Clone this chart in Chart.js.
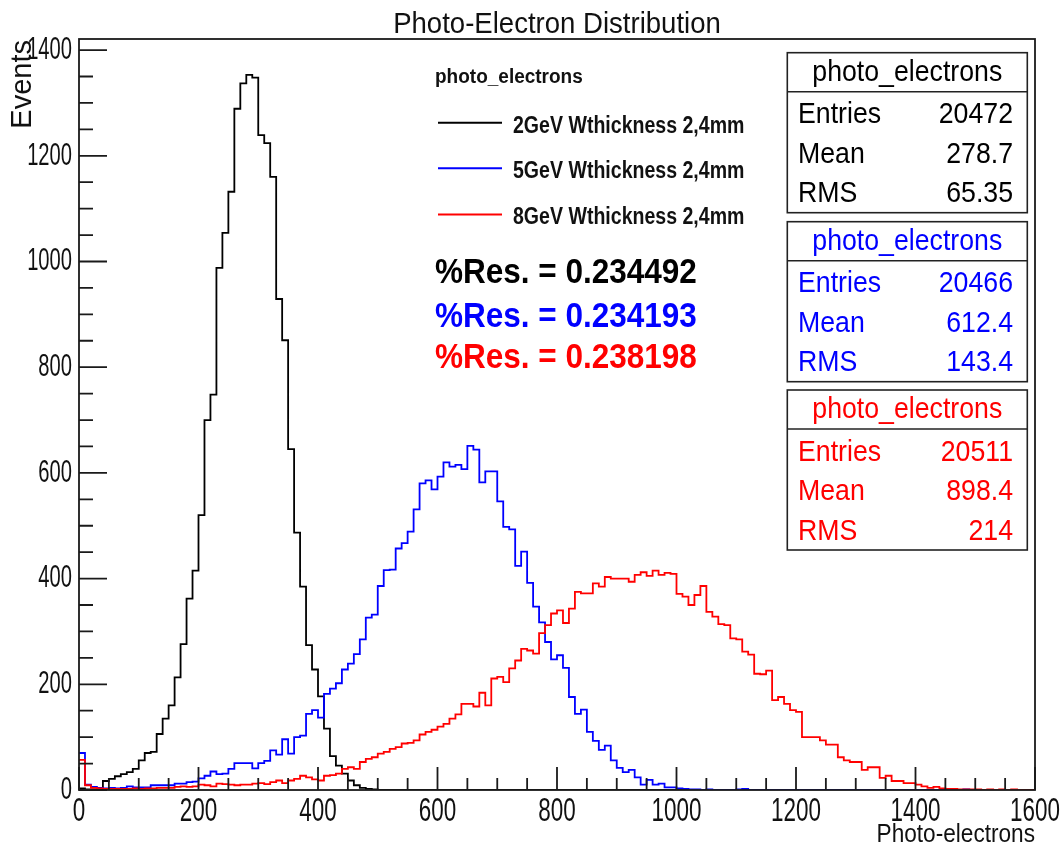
<!DOCTYPE html>
<html>
<head>
<meta charset="utf-8">
<title>Photo-Electron Distribution</title>
<script src="https://cdn.jsdelivr.net/npm/chart.js@4/dist/chart.umd.min.js"></script>
<style>
  html, body { margin: 0; padding: 0; background: #fff; }
  canvas { display: block; }
</style>
</head>
<body>
<canvas id="peChart" width="1061" height="848"></canvas>
<script>
// bin lower edges, 10 photo-electrons wide, 0 -> 1600
const binLow = Array.from({ length: 160 }, (_, i) => i * 10);

// counts per bin
const black2GeV = [
  3, 1, 1, 2, 17, 21, 26, 30, 34, 40,
  56, 70, 72, 106, 135, 160, 213, 276, 362, 415,
  520, 700, 748, 988, 1054, 1132, 1289, 1337, 1353, 1348,
  1239, 1224, 1160, 929, 851, 645, 487, 385, 274, 228,
  177, 116, 64, 46, 31, 18, 9, 4, 2, 1,
  0, 0, 0, 0, 0, 0, 0, 0, 0, 0,
  0, 0, 0, 0, 0, 0, 0, 0, 0, 0,
  0, 0, 0, 0, 0, 0, 0, 0, 0, 0,
  0, 0, 0, 0, 0, 0, 0, 0, 0, 0,
  0, 0, 0, 0, 0, 0, 0, 0, 0, 0,
  0, 0, 0, 0, 0, 0, 0, 0, 0, 0,
  0, 0, 0, 0, 0, 0, 0, 0, 0, 0,
  0, 0, 0, 0, 0, 0, 0, 0, 0, 0,
  0, 0, 0, 0, 0, 0, 0, 0, 0, 0,
  0, 0, 0, 0, 0, 0, 0, 0, 0, 0,
  0, 0, 0, 0, 0, 0, 0, 0, 0, 0
];

const blue5GeV = [
  70, 10, 6, 4, 3, 4, 3, 4, 7, 5,
  5, 5, 9, 9, 9, 9, 12, 12, 15, 16,
  22, 27, 35, 30, 31, 40, 51, 51, 51, 41,
  51, 55, 75, 67, 96, 69, 100, 103, 144, 151,
  137, 182, 192, 202, 228, 239, 257, 285, 326, 332,
  386, 416, 417, 457, 467, 489, 531, 580, 586, 569,
  593, 620, 612, 615, 607, 651, 644, 582, 603, 603,
  546, 498, 493, 424, 451, 392, 347, 317, 280, 247,
  255, 231, 176, 144, 152, 110, 93, 76, 84, 56,
  42, 34, 38, 24, 10, 19, 10, 12, 5, 5,
  3, 2, 1, 1, 0, 1, 0, 0, 0, 0,
  1, 2, 0, 0, 0, 0, 0, 0, 0, 0,
  0, 0, 0, 0, 0, 0, 0, 0, 0, 0,
  0, 0, 0, 0, 0, 0, 0, 0, 0, 0,
  0, 0, 0, 0, 0, 1, 0, 0, 1, 0,
  0, 0, 0, 0, 0, 0, 0, 0, 0, 0
];

const red8GeV = [
  57, 9, 4, 3, 2, 2, 2, 2, 2, 3,
  2, 3, 3, 4, 4, 4, 6, 7, 6, 7,
  10, 9, 7, 12, 11, 10, 9, 10, 10, 12,
  13, 11, 15, 18, 13, 18, 21, 27, 24, 20,
  18, 27, 28, 31, 40, 43, 40, 53, 59, 62,
  69, 72, 78, 81, 88, 89, 94, 105, 110, 114,
  120, 125, 135, 143, 163, 163, 158, 184, 160, 211,
  214, 204, 230, 245, 267, 264, 258, 297, 312, 334,
  340, 316, 343, 375, 372, 372, 391, 385, 403, 400,
  400, 400, 394, 407, 412, 405, 415, 407, 411, 409,
  371, 366, 350, 369, 386, 337, 328, 314, 312, 287,
  285, 262, 256, 220, 219, 226, 170, 176, 163, 151,
  148, 100, 100, 100, 94, 86, 86, 62, 56, 53,
  53, 38, 43, 43, 23, 27, 17, 17, 13, 13,
  10, 7, 4, 6, 3, 2, 2, 1, 1, 1,
  1, 0, 1, 0, 1, 0, 1, 0, 0, 0
];

const seriesLabels = ['2GeV Wthickness 2,4mm', '5GeV Wthickness 2,4mm', '8GeV Wthickness 2,4mm'];
const seriesColors = ['#000000', '#0000ff', '#ff0000'];
const resValues = ['0.234492', '0.234193', '0.238198'];
const statEntries = ['20472', '20466', '20511'];
const statMean = ['278.7', '612.4', '898.4'];
const statRMS = ['65.35', '143.4', '214'];

const xTicks = [0, 200, 400, 600, 800, 1000, 1200, 1400, 1600];
const yTicks = [0, 200, 400, 600, 800, 1000, 1200, 1400];

const FONT = '"Liberation Sans", Arial, Helvetica, sans-serif';

// histogram outline: one point per lower edge, plus the closing edge
function toSteps(counts) {
  const pts = binLow.map((x, i) => ({ x: x, y: counts[i] }));
  pts.push({ x: 1600, y: counts[counts.length - 1] });
  return pts;
}

function drawText(ctx, str, x, y, opt) {
  ctx.save();
  ctx.font = opt.font;
  ctx.fillStyle = opt.color || '#000';
  ctx.textAlign = opt.align || 'left';
  ctx.textBaseline = opt.baseline || 'alphabetic';
  ctx.translate(x, y);
  if (opt.rotate) ctx.rotate(opt.rotate);
  ctx.scale(opt.sx || 1, 1);
  ctx.fillText(str, 0, 0);
  ctx.restore();
}

// ROOT style frame, inner ticks, legend, stat boxes
const rootDecor = {
  id: 'rootDecor',
  afterDatasetsDraw(chart) {
    const ctx = chart.ctx;
    const a = chart.chartArea;
    const xs = chart.scales.x;
    const ys = chart.scales.y;

    ctx.save();
    ctx.strokeStyle = '#1a1a1a';
    ctx.lineWidth = 1.8;
    ctx.strokeRect(a.left, a.top, a.right - a.left, a.bottom - a.top);

    ctx.beginPath();
    for (let v = 0; v <= 1600; v += 50) {
      const px = xs.getPixelForValue(v);
      const len = v % 200 === 0 ? 23 : 12;
      ctx.moveTo(px, a.bottom);
      ctx.lineTo(px, a.bottom - len);
    }
    for (let v = 0; v <= ys.max; v += 50) {
      const py = ys.getPixelForValue(v);
      const len = v % 200 === 0 ? 28 : 14;
      ctx.moveTo(a.left, py);
      ctx.lineTo(a.left + len, py);
    }
    ctx.stroke();
    ctx.restore();

    // tick labels
    xTicks.forEach(v => {
      drawText(ctx, String(v), xs.getPixelForValue(v), 821,
        { font: '34px ' + FONT, align: 'center', sx: 0.66, color: '#111' });
    });
    yTicks.forEach(v => {
      drawText(ctx, String(v), 72, ys.getPixelForValue(v),
        { font: '32px ' + FONT, align: 'right', baseline: 'middle', sx: 0.63, color: '#111' });
    });

    // axis titles and main title
    drawText(ctx, 'Photo-electrons', a.right, 842,
      { font: '26px ' + FONT, align: 'right', sx: 0.87, color: '#111' });
    drawText(ctx, 'Events', 31, a.top + 1,
      { font: '29px ' + FONT, align: 'right', rotate: -Math.PI / 2, color: '#111' });
    drawText(ctx, 'Photo-Electron Distribution', 557, 33,
      { font: '29px ' + FONT, align: 'center', sx: 0.95, color: '#111' });

    // legend
    drawText(ctx, 'photo_electrons', 435, 83,
      { font: 'bold 20px ' + FONT, sx: 0.95, color: '#111' });
    const legY = [122.7, 168.3, 214.5];
    const legBase = [133.3, 178.3, 224];
    seriesLabels.forEach((lab, i) => {
      ctx.save();
      ctx.strokeStyle = seriesColors[i];
      ctx.lineWidth = 2;
      ctx.beginPath();
      ctx.moveTo(438, legY[i]);
      ctx.lineTo(502, legY[i]);
      ctx.stroke();
      ctx.restore();
      drawText(ctx, lab, 513, legBase[i],
        { font: 'bold 23px ' + FONT, sx: 0.85, color: '#111' });
    });

    // resolution lines
    const resBase = [283, 326.7, 368.3];
    resValues.forEach((r, i) => {
      drawText(ctx, '%Res. = ' + r, 435, resBase[i],
        { font: 'bold 35px ' + FONT, sx: 0.9, color: seriesColors[i] });
    });

    // stat boxes
    const boxTop = [52.7, 221.7, 390];
    const bx0 = 787.3, bx1 = 1027.3;
    boxTop.forEach((t, i) => {
      const sep = t + 39;
      const bottom = t + 160;
      ctx.save();
      ctx.fillStyle = '#fff';
      ctx.fillRect(bx0, t, bx1 - bx0, bottom - t);
      ctx.strokeStyle = '#222';
      ctx.lineWidth = 1.6;
      ctx.strokeRect(bx0, t, bx1 - bx0, bottom - t);
      ctx.beginPath();
      ctx.moveTo(bx0, sep);
      ctx.lineTo(bx1, sep);
      ctx.stroke();
      ctx.restore();

      const f = { font: '30px ' + FONT, sx: 0.89, color: seriesColors[i] };
      drawText(ctx, 'photo_electrons', (bx0 + bx1) / 2, t + 28, Object.assign({}, f, { align: 'center' }));
      const rows = [['Entries', statEntries[i]], ['Mean', statMean[i]], ['RMS', statRMS[i]]];
      rows.forEach((row, k) => {
        const by = t + 70.5 + k * 39.5;
        drawText(ctx, row[0], 798, by, f);
        drawText(ctx, row[1], 1013, by, Object.assign({}, f, { align: 'right' }));
      });
    });
  }
};

const ctx = document.getElementById('peChart').getContext('2d');
new Chart(ctx, {
  type: 'line',
  data: {
    datasets: [
      { label: seriesLabels[0], data: toSteps(black2GeV), borderColor: seriesColors[0], order: 3 },
      { label: seriesLabels[1], data: toSteps(blue5GeV), borderColor: seriesColors[1], order: 2 },
      { label: seriesLabels[2], data: toSteps(red8GeV), borderColor: seriesColors[2], order: 1 }
    ]
  },
  options: {
    responsive: false,
    animation: false,
    devicePixelRatio: 1,
    layout: { padding: { left: 79, right: 26, top: 39, bottom: 58 } },
    elements: {
      point: { radius: 0, hoverRadius: 0 },
      line: { borderWidth: 1.8, stepped: 'before', tension: 0, fill: false }
    },
    scales: {
      x: { type: 'linear', min: 0, max: 1600, display: false },
      y: { type: 'linear', min: 0, max: 1421, display: false }
    },
    plugins: {
      legend: { display: false },
      tooltip: { enabled: false },
      title: { display: false }
    }
  },
  plugins: [rootDecor]
});
</script>
</body>
</html>
